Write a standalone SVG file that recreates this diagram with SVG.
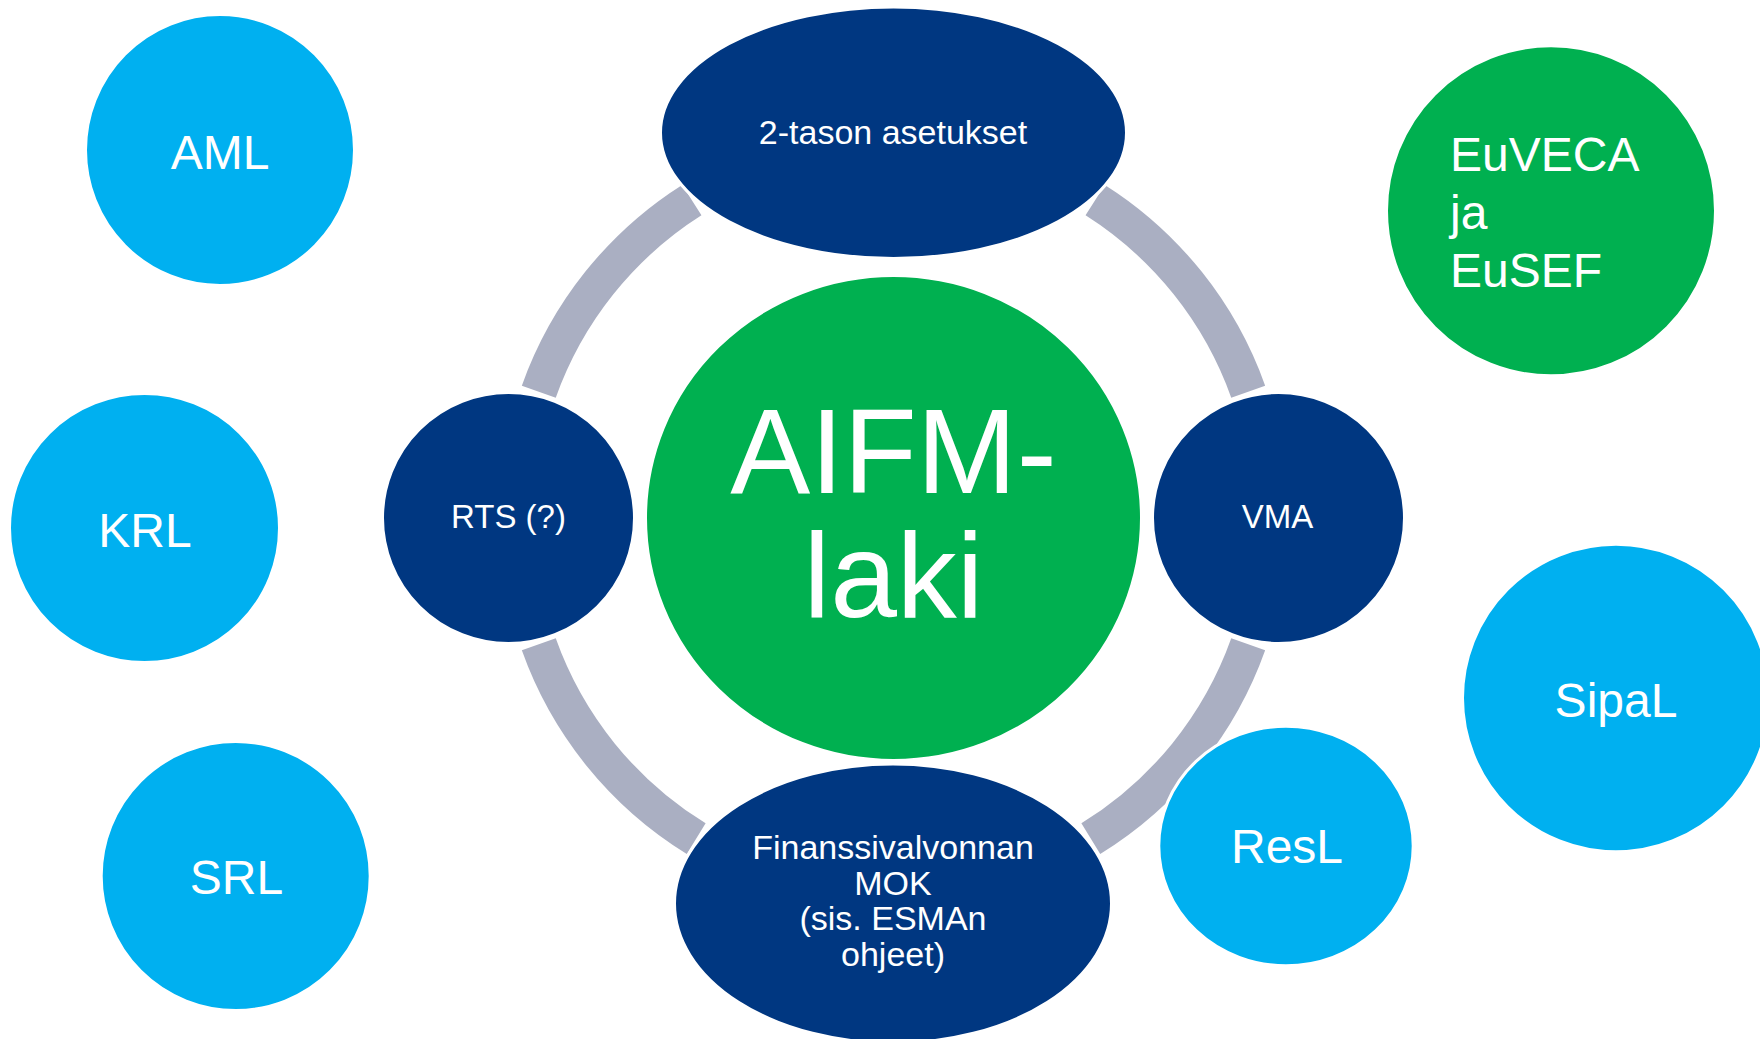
<svg xmlns="http://www.w3.org/2000/svg" width="1760" height="1039" viewBox="0 0 1760 1039">
  <style>
    .ring { fill: none; stroke: #AAAFC2; stroke-width: 36; stroke-linecap: butt; }
    .node { stroke: #FFFFFF; stroke-width: 3; }
    .dark { fill: #003781; }
    .sky { fill: #00B0F0; }
    .green { fill: #00B050; }
    text { font-family: "Liberation Sans", Arial, sans-serif; fill: #FFFFFF; }
    .c { text-anchor: middle; }
    .s33 { font-size: 33px; }
    .s34 { font-size: 34px; }
    .s48 { font-size: 48px; }
    .s120 { font-size: 120px; }
  </style>
  <rect width="1760" height="1039" fill="#FFFFFF"/>

  <!-- ring segments between the satellite nodes -->
  <g id="connectors">
    <path class="ring" d="M 538.8 391.7 A 376.5 376.5 0 0 1 691.8 200.1"/>
    <path class="ring" d="M 1095.2 200.1 A 376.5 376.5 0 0 1 1248.2 391.7"/>
    <path class="ring" d="M 1248.2 644.3 A 376.5 376.5 0 0 1 1090.8 838.7"/>
    <path class="ring" d="M 696.2 838.7 A 376.5 376.5 0 0 1 538.8 644.3"/>
  </g>

  <g id="node-aifm">
    <ellipse class="node green" cx="893.5" cy="518" rx="248" ry="242.5"/>
    <text class="c s120" x="893.5" y="493">AIFM-</text>
    <text class="c s120" x="893.5" y="617">laki</text>
  </g>

  <g id="node-2-tason">
    <ellipse class="node dark" cx="893.5" cy="132.7" rx="233" ry="125.8"/>
    <text class="c s34" x="893" y="144">2-tason asetukset</text>
  </g>

  <g id="node-rts">
    <ellipse class="node dark" cx="508.5" cy="518" rx="126" ry="125.5"/>
    <text class="c s33" x="508.5" y="528">RTS (?)</text>
  </g>

  <g id="node-vma">
    <ellipse class="node dark" cx="1278.5" cy="518" rx="126" ry="125.5"/>
    <text class="c s33" x="1277.5" y="528">VMA</text>
  </g>

  <g id="node-mok">
    <ellipse class="node dark" cx="893" cy="903.6" rx="218.5" ry="139.5"/>
    <text class="c s34" x="893" y="859">Finanssivalvonnan</text>
    <text class="c s34" x="893" y="894.5">MOK</text>
    <text class="c s34" x="893" y="930">(sis. ESMAn</text>
    <text class="c s34" x="893" y="965.5">ohjeet)</text>
  </g>

  <g id="node-aml">
    <ellipse class="node sky" cx="220" cy="150" rx="134.5" ry="135.5"/>
    <text class="c s48" x="220" y="169">AML</text>
  </g>

  <g id="node-krl">
    <ellipse class="node sky" cx="144.5" cy="528" rx="135" ry="134.5"/>
    <text class="c s48" x="145" y="547">KRL</text>
  </g>

  <g id="node-srl">
    <ellipse class="node sky" cx="235.7" cy="876" rx="134.5" ry="134.5"/>
    <text class="c s48" x="236.5" y="894">SRL</text>
  </g>

  <g id="node-euveca">
    <ellipse class="node green" cx="1551" cy="210.8" rx="164.5" ry="165"/>
    <text class="s48" x="1450" y="171">EuVECA</text>
    <text class="s48" x="1450" y="229">ja</text>
    <text class="s48" x="1450" y="287">EuSEF</text>
  </g>

  <g id="node-sipal">
    <ellipse class="node sky" cx="1616" cy="698" rx="153.5" ry="153.8"/>
    <text class="c s48" x="1616" y="717">SipaL</text>
  </g>

  <g id="node-resl">
    <ellipse class="node sky" cx="1286" cy="846" rx="127.2" ry="119.8"/>
    <text class="c s48" x="1287" y="863">ResL</text>
  </g>
</svg>
